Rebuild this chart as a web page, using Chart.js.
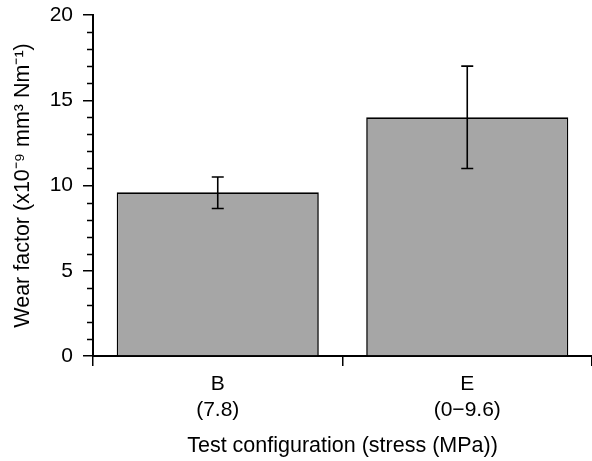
<!DOCTYPE html>
<html>
<head>
<meta charset="utf-8">
<script src="https://cdn.jsdelivr.net/npm/chart.js@4.4.1/dist/chart.umd.min.js"></script>
<style>
  html, body { margin: 0; padding: 0; background: #fff; }
</style>
</head>
<body>
<canvas id="wearChart" width="592" height="461"></canvas>
<script>
// === Data ===
const categories = [['B', '(7.8)'], ['E', '(0\u22129.6)']];
const wearFactor = [9.6, 14.0];
const errorPlus = [0.9, 3.0];
const errorMinus = [0.95, 3.0];
const yMajorTicks = [0, 5, 10, 15, 20];
const yMinorTicks = [1, 2, 3, 4, 6, 7, 8, 9, 11, 12, 13, 14, 16, 17, 18, 19];

const FONT = "'Liberation Sans', Arial, Helvetica, sans-serif";
Chart.defaults.font.family = FONT;
Chart.defaults.font.size = 21;
Chart.defaults.color = '#000';

// === error bars + minor y ticks, drawn from the scales ===
const extrasPlugin = {
  id: 'extras',
  afterDatasetsDraw(chart) {
    const ctx = chart.ctx;
    const y = chart.scales.y;
    const meta = chart.getDatasetMeta(0);
    ctx.save();
    ctx.strokeStyle = '#000';
    ctx.lineWidth = 1.6;
    meta.data.forEach((bar, i) => {
      const top = y.getPixelForValue(wearFactor[i] + errorPlus[i]);
      const bottom = y.getPixelForValue(wearFactor[i] - errorMinus[i]);
      ctx.beginPath();
      ctx.moveTo(bar.x, top);
      ctx.lineTo(bar.x, bottom);
      ctx.moveTo(bar.x - 6, top);
      ctx.lineTo(bar.x + 6, top);
      ctx.moveTo(bar.x - 6, bottom);
      ctx.lineTo(bar.x + 6, bottom);
      ctx.stroke();
    });
    ctx.restore();
  },
  afterDraw(chart) {
    const ctx = chart.ctx;
    const y = chart.scales.y;
    const x0 = chart.chartArea.left;
    ctx.save();
    ctx.strokeStyle = '#000';
    ctx.lineWidth = 1.5;
    ctx.beginPath();
    yMinorTicks.forEach(v => {
      const py = Math.round(y.getPixelForValue(v)) + 0.5;
      ctx.moveTo(x0 - 6, py);
      ctx.lineTo(x0, py);
    });
    ctx.stroke();
    ctx.restore();
  }
};

const ctx = document.getElementById('wearChart');
new Chart(ctx, {
  type: 'bar',
  data: {
    labels: categories,
    datasets: [{
      data: wearFactor,
      backgroundColor: '#a6a6a6',
      borderColor: '#000',
      borderWidth: 1.6,
      borderSkipped: 'start',
      categoryPercentage: 1,
      barPercentage: 0.81
    }]
  },
  options: {
    responsive: false,
    animation: false,
    layout: { padding: { top: 15, right: 0, bottom: 0, left: 0 } },
    plugins: {
      legend: { display: false },
      tooltip: { enabled: false }
    },
    scales: {
      x: {
        grid: {
          offset: true,
          drawOnChartArea: false,
          color: '#000',
          lineWidth: 1.5,
          tickLength: 10
        },
        border: { color: '#000', width: 2 },
        ticks: { padding: 6, font: { size: 21, lineHeight: 1.2 }, maxRotation: 0 },
        title: {
          display: true,
          text: 'Test configuration (stress (MPa))',
          font: { size: 21.5 },
          padding: { top: 0, bottom: 2 }
        },
        afterFit(scale) {
          scale.height = 105;
          scale.paddingLeft = 0;
          scale.paddingRight = 0;
        }
      },
      y: {
        min: 0,
        max: 20,
        afterBuildTicks(scale) {
          scale.ticks = yMajorTicks.map(v => ({ value: v }));
        },
        grid: {
          drawOnChartArea: false,
          color: '#000',
          lineWidth: 1.5,
          tickLength: 10
        },
        border: { color: '#000', width: 2 },
        ticks: { padding: 10, font: { size: 21 } },
        title: {
          display: true,
          text: 'Wear factor (x10\u207B\u2079 mm\u00B3 Nm\u207B\u00B9)',
          font: { size: 21.5 },
          padding: { top: 10, bottom: 0 }
        },
        afterFit(scale) {
          scale.width = 93;
          scale.paddingTop = 0;
          scale.paddingBottom = 0;
        }
      }
    }
  },
  plugins: [extrasPlugin]
});
</script>
</body>
</html>
